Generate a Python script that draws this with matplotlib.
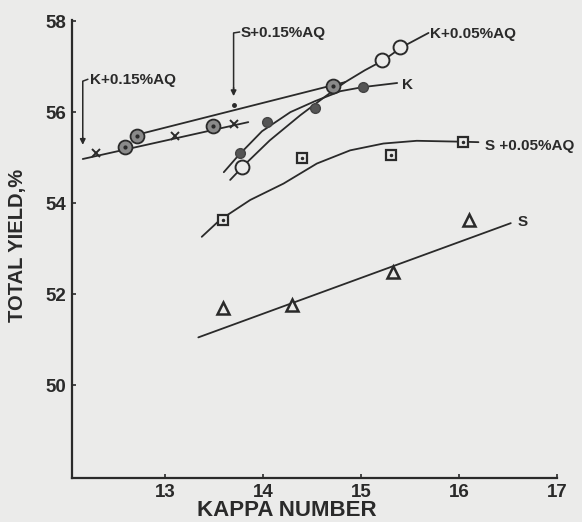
import numpy as np
import matplotlib
matplotlib.use("Agg")
import matplotlib.pyplot as plt

plt.rcParams["font.family"] = ["Liberation Sans", "DejaVu Sans"]

# Points (kappa number, total yield %)
k015_x = [12.30, 13.10, 13.70]
k015_y = [55.10, 55.47, 55.74]
k015_fit_x = [12.16, 13.85]
k015_fit_y = [54.97, 55.78]

s015_x = [12.59, 12.71, 13.49, 14.72]
s015_y = [55.23, 55.47, 55.69, 56.57]
s015_fit_x = [12.69, 14.84]
s015_fit_y = [55.49, 56.66]

k_x = [13.77, 14.04, 14.53, 15.02]
k_y = [55.10, 55.78, 56.09, 56.55]
k_fit_x = [13.60, 13.75, 13.99, 14.28, 14.53, 14.79, 15.02, 15.37]
k_fit_y = [54.68, 55.05, 55.58, 56.00, 56.24, 56.46, 56.55, 56.64]

k005_x = [13.79, 15.22, 15.40]
k005_y = [54.79, 57.14, 57.43]
k005_fit_x = [13.665, 13.82, 14.07, 14.38, 14.64, 14.84, 15.04, 15.23, 15.42, 15.69]
k005_fit_y = [54.51, 54.86, 55.38, 55.93, 56.35, 56.66, 56.92, 57.14, 57.43, 57.74]

s005_x = [13.59, 14.40, 15.31, 16.04]
s005_y = [53.63, 54.99, 55.05, 55.34]
s005_fit_x = [13.375, 13.56, 13.87, 14.21, 14.55, 14.89, 15.23, 15.57, 16.03, 16.20]
s005_fit_y = [53.26, 53.63, 54.07, 54.43, 54.87, 55.16, 55.31, 55.37, 55.35, 55.34]

s_x = [13.59, 14.30, 15.33, 16.10]
s_y = [51.69, 51.76, 52.48, 53.63]
s_fit_x = [13.34, 16.53]
s_fit_y = [51.05, 53.56]

xticks = [13, 14, 15, 16, 17]
yticks = [50, 52, 54, 56, 58]

ink = "#2a2a2a"
paper = "#ebebea"

fig = plt.figure(figsize=(5.82, 5.22), dpi=100, facecolor=paper)
ax = fig.add_axes([0.1237, 0.0843, 0.833, 0.877], facecolor=paper)

lw = 1.3
# fitted curves
for fx, fy in [(k015_fit_x, k015_fit_y), (s015_fit_x, s015_fit_y), (k_fit_x, k_fit_y),
               (k005_fit_x, k005_fit_y), (s005_fit_x, s005_fit_y), (s_fit_x, s_fit_y)]:
    ax.plot(fx, fy, color=ink, lw=lw, solid_capstyle="round", solid_joinstyle="round")

# data markers
ax.plot(k015_x, k015_y, ls="none", marker="x", ms=6, mew=1.4, color=ink)
ax.plot(s015_x, s015_y, ls="none", marker="o", ms=10, mfc="#8a8a8a", mec=ink, mew=1.3)
ax.plot(s015_x, s015_y, ls="none", marker="o", ms=2, color=ink)
ax.plot(k_x, k_y, ls="none", marker="o", ms=7, mfc="#555555", mec="#444444", mew=1)
ax.plot(k005_x, k005_y, ls="none", marker="o", ms=10, mfc=paper, mec=ink, mew=1.4)
ax.plot(s005_x, s005_y, ls="none", marker="s", ms=7, mfc=paper, mec=ink, mew=1.6)
ax.plot(s005_x, s005_y, ls="none", marker="o", ms=1.5, color=ink)
ax.plot(s_x, s_y, ls="none", marker="^", ms=8, mfc=paper, mec=ink, mew=1.8)

# curve labels
lab = dict(fontsize=11, fontweight="bold", color=ink, va="center", ha="left")
ax.text(12.23, 56.70, "K+0.15%AQ", **lab)
ax.text(13.77, 57.74, "S+0.15%AQ", **lab)
ax.text(15.71, 57.71, "K+0.05%AQ", **lab)
ax.text(15.42, 56.59, "K", **lab)
ax.text(16.27, 55.25, "S +0.05%AQ", **lab)
ax.text(16.60, 53.58, "S", **lab)

# label pointers
ax.plot([12.21, 12.16, 12.16], [56.72, 56.68, 55.45], color=ink, lw=1.1)
ax.annotate("", xy=(12.16, 55.22), xytext=(12.16, 55.5),
            arrowprops=dict(arrowstyle="-|>", color=ink, lw=1.1, mutation_scale=8))
ax.plot([13.76, 13.70, 13.70], [57.76, 57.74, 56.5], color=ink, lw=1.1)
ax.annotate("", xy=(13.70, 56.29), xytext=(13.70, 56.6),
            arrowprops=dict(arrowstyle="-|>", color=ink, lw=1.1, mutation_scale=8))
ax.plot([13.70], [56.15], marker="o", ms=2.5, color=ink)

ax.set_xlim(12.05, 17.0)
ax.set_ylim(47.96, 58.02)
ax.set_xticks(xticks)
ax.set_yticks(yticks)
ax.set_xticklabels([str(t) for t in xticks], fontsize=13.5, fontweight="bold", color=ink)
ax.set_yticklabels([str(t) for t in yticks], fontsize=13.5, fontweight="bold", color=ink)
ax.tick_params(direction="in", length=3, width=1.2, color=ink, pad=4)
for side in ["top", "right"]:
    ax.spines[side].set_visible(False)
for side in ["left", "bottom"]:
    ax.spines[side].set_color(ink)
    ax.spines[side].set_linewidth(1.6)

ax.set_ylabel("TOTAL YIELD,%", fontsize=14.5, fontweight="bold", color=ink)
ax.yaxis.set_label_coords(-0.093, 0.507)
fig.text(0.493, 1 / 522, "KAPPA NUMBER", fontsize=16, fontweight="bold",
         color=ink, ha="center", va="bottom")

fig.savefig("out.png", dpi=100, facecolor=paper)
